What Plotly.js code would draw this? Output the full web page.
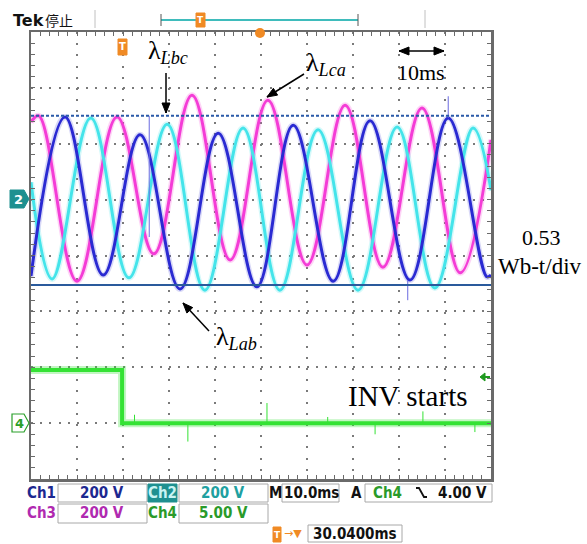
<!DOCTYPE html>
<html><head><meta charset="utf-8">
<script src="https://cdn.plot.ly/plotly-3.0.1.min.js"></script>
<style>html,body{margin:0;padding:0;background:#fff}</style>
</head><body><div id="chart" style="width:587px;height:544px"></div>
<script>
// ---- data (time in ms, flux in divisions) ----
const magT  = [0, 1.7, 10.0, 18.7, 26.7, 35.0, 43.3, 51.5, 60.0, 68.3, 76.5, 85.0, 93.3, 100];
const magV  = [2.39, 2.50, -0.46, 2.48, 0.03, 2.87, -0.08, 2.78, -0.17, 2.69, -0.21, 2.64, -0.31, 2.07];
const blueT = [0, 7.4, 15.7, 23.7, 32.4, 40.7, 49.1, 57.0, 65.7, 73.7, 82.4, 90.7, 99.1, 100];
const blueV = [-0.37, 2.48, -0.35, 2.16, -0.60, 2.19, -0.56, 2.33, -0.46, 2.41, -0.44, 2.46, -0.38, -0.35];
const cyanT = [0, 4.6, 13.0, 21.3, 29.6, 37.8, 46.1, 54.1, 62.4, 71.1, 79.6, 87.8, 96.1, 100];
const cyanV = [1.31, -0.42, 2.46, -0.40, 2.35, -0.62, 2.28, -0.62, 2.25, -0.62, 2.30, -0.58, 2.28, 1.17];
const greenT = [0, 19.8, 19.8, 100];
const greenV = [-2.05, -2.05, -3.0, -3.0];
const greenSpikeT = [22.5, 34.1, 51.3, 64.5, 74.8, 85.2, 96.5];
const greenSpikeV = [-2.85, -3.33, -2.64, -2.89, -3.2, -2.79, -3.16];
const blueSpikeT = [25.7, 81.9, 90.7];
const blueSpikeFrom = [0.33, -0.44, 2.46];
const blueSpikeTo = [2.50, -0.80, 2.85];
const cursorTop = 2.50, cursorBottom = -0.53;
const greenLow = -3.0;

const C_MAG = '#f43cd6', C_BLUE = '#2a2ad2', C_CYAN = '#44e4ea', C_GREEN = '#34e234';

function spikes(ts, from, to){ const x=[],y=[]; ts.forEach((t,i)=>{x.push(t,t,null);y.push(from[i],to[i],null);}); return {x,y}; }
const gs = spikes(greenSpikeT, greenSpikeT.map(()=>greenLow), greenSpikeV);
const bs = spikes(blueSpikeT, blueSpikeFrom, blueSpikeTo);

function wave(x,y,color,w,op){ return {x,y,type:'scatter',mode:'lines',line:{color,width:w,shape:'spline',smoothing:1.1},opacity:op,hoverinfo:'skip'}; }
const traces = [
  wave(magT,magV,C_MAG,6,0.22), wave(cyanT,cyanV,C_CYAN,6,0.22), wave(blueT,blueV,C_BLUE,6,0.18),
  wave(magT,magV,C_MAG,3,1), wave(cyanT,cyanV,C_CYAN,3,1), wave(blueT,blueV,C_BLUE,3,1),
  {x:bs.x,y:bs.y,type:'scatter',mode:'lines',line:{color:'#6a6ae0',width:1},hoverinfo:'skip'},
  {x:greenT,y:greenV,type:'scatter',mode:'lines',line:{color:C_GREEN,width:8},opacity:0.3,hoverinfo:'skip'},
  {x:greenT,y:greenV,type:'scatter',mode:'lines',line:{color:C_GREEN,width:4},hoverinfo:'skip'},
  {x:gs.x,y:gs.y,type:'scatter',mode:'lines',line:{color:C_GREEN,width:1},hoverinfo:'skip'}
];

// ---- layout helpers (pixel -> paper) ----
const L=31,R=491,T=32,B=479;
const px = p => (p-L)/(R-L);
const py = p => (B-p)/(B-T);
const FS = 'Liberation Sans Narrow, DejaVu Sans Condensed, Arial Narrow, DejaVu Sans, sans-serif';
const SERIF = 'Liberation Serif, Times New Roman, DejaVu Serif, serif';
function rect(x0,y0,x1,y1,fill,line,lw){return {type:'rect',xref:'paper',yref:'paper',x0:px(x0),x1:px(x1),y0:py(y1),y1:py(y0),fillcolor:fill,line:{color:line,width:lw},layer:'above'};}
function seg(x0,y0,x1,y1,color,w){return {type:'line',xref:'paper',yref:'paper',x0:px(x0),x1:px(x1),y0:py(y0),y1:py(y1),line:{color:color,width:w},layer:'above'};}
function poly(pts,fill,line,lw,close){ const d=pts.map((p,i)=>(i?'L':'M')+px(p[0]).toFixed(5)+','+py(p[1]).toFixed(5)).join(' ')+(close?' Z':''); return {type:'path',xref:'paper',yref:'paper',path:d,fillcolor:fill,line:{color:line,width:lw},layer:'above'}; }
function txt(x,y,text,size,color,opts){ return Object.assign({xref:'paper',yref:'paper',x:px(x),y:py(y),text:text,showarrow:false,xanchor:'center',yanchor:'middle',font:{size:size,color:color,family:FS}},opts||{}); }
function head(tx,ty,fx,fy){ const dx=tx-fx, dy=ty-fy, l=Math.hypot(dx,dy), ux=dx/l, uy=dy/l, hl=10, hw=4;
  const bx=tx-ux*hl, by=ty-uy*hl; return poly([[tx,ty],[bx-uy*hw,by+ux*hw],[bx+uy*hw,by-ux*hw]],'#000','#000',1,true); }
function arrowShapes(fx,fy,tx,ty,both){ const out=[seg(fx,fy,tx,ty,'#000',1.5), head(tx,ty,fx,fy)]; if(both) out.push(head(fx,fy,tx,ty)); return out; }

const shapes = [
  {type:'line',xref:'paper',yref:'y',x0:0,x1:1,y0:cursorTop,y1:cursorTop,line:{color:'#2a5aa8',width:2,dash:'3px,2px'}},
  {type:'line',xref:'paper',yref:'y',x0:0,x1:1,y0:cursorBottom,y1:cursorBottom,line:{color:'#2a5a9c',width:2}},
  // header
  seg(95,10,95,28,'#c0c0c0',1), seg(425,10,425,28,'#c0c0c0',1),
  seg(161,20,358,20,'#3fbcbc',2), seg(161,14,161,26,'#555',1), seg(358,14,358,26,'#555',1),
  rect(196,13,205,27,'#f08a24','#f08a24',1),
  {type:'circle',xref:'paper',yref:'paper',x0:px(255),x1:px(265),y0:py(38),y1:py(28),fillcolor:'#f08a24',line:{width:0}},
  // trigger marker inside
  rect(118,39,127,55,'#f08a24','#f08a24',1),
  // channel markers
  poly([[10,190],[24,190],[29,199],[24,208],[10,208]],'#1e9090','#1e9090',1,true),
  poly([[12,414],[24,414],[29,423],[24,432],[12,432]],'#ffffff','#2aa02a',1.2,true),
  // trigger level arrow
  poly([[480,377],[485,373],[485,381]],'#1f9a1f','#1f9a1f',1,true),
  seg(485,377,490,377,'#1f9a1f',2),
  // status boxes
  rect(58,484,147,502,'#fff','#a8a8a8',1), rect(179,484,268,502,'#fff','#a8a8a8',1),
  rect(148,484,177,502,'#1e9090','#1e9090',1),
  rect(282,484,339,502,'#fff','#a8a8a8',1), rect(365,484,492,502,'#fff','#a8a8a8',1),
  rect(58,504,147,523,'#fff','#a8a8a8',1), rect(179,504,268,523,'#fff','#a8a8a8',1),
  rect(308,525,402,542,'#fff','#a8a8a8',1),
  rect(273,527,281,542,'#f08a24','#f08a24',1),
  poly([[416,488],[419,488],[424,497],[427,497]],'rgba(0,0,0,0)','#111',1.8,false)
].concat(
  arrowShapes(166,73,166,113),
  arrowShapes(304,74,267,97),
  arrowShapes(209,331,183,303),
  arrowShapes(399,51,444,51,true)
);

const annotations = [
  txt(28,20,'<b>Tek</b>',16,'#111',{font:{size:16,color:'#111',family:'DejaVu Sans, sans-serif'}}),
  txt(59,20,'停止',14,'#111',{font:{size:14,color:'#111',family:'Noto Sans CJK SC, sans-serif'}}),
  txt(200.5,20,'<b>T</b>',9,'#fff',{font:{size:9,color:'#fff',family:'DejaVu Sans'}}),
  txt(122.5,47,'<b>T</b>',10,'#fff',{font:{size:10,color:'#fff',family:'DejaVu Sans'}}),
  txt(18,199,'<b>2</b>',13,'#fff',{font:{size:13,color:'#fff',family:'DejaVu Sans'}}),
  txt(19,423,'<b>4</b>',13,'#2aa02a',{font:{size:13,color:'#2aa02a',family:'DejaVu Sans'}}),
  // inside labels
  {xref:'paper',yref:'paper',x:px(146),y:py(52),xanchor:'left',yanchor:'middle',showarrow:false,text:'λ<sub><i>Lbc</i></sub>',font:{size:26,color:'#000',family:SERIF}},
  {xref:'paper',yref:'paper',x:px(304),y:py(64),xanchor:'left',yanchor:'middle',showarrow:false,text:'λ<sub><i>Lca</i></sub>',font:{size:26,color:'#000',family:SERIF}},
  {xref:'paper',yref:'paper',x:px(214),y:py(338),xanchor:'left',yanchor:'middle',showarrow:false,text:'λ<sub><i>Lab</i></sub>',font:{size:26,color:'#000',family:SERIF}},
  {xref:'paper',yref:'paper',x:px(421),y:py(72),xanchor:'center',yanchor:'middle',showarrow:false,text:'10ms',font:{size:22,color:'#000',family:SERIF}},
  {xref:'paper',yref:'paper',x:px(407),y:py(396),xanchor:'center',yanchor:'middle',showarrow:false,text:'INV starts',font:{size:29,color:'#000',family:SERIF}},
  {xref:'paper',yref:'paper',x:px(541),y:py(237),xanchor:'center',yanchor:'middle',showarrow:false,text:'0.53',font:{size:22,color:'#000',family:SERIF}},
  {xref:'paper',yref:'paper',x:px(540),y:py(266),xanchor:'center',yanchor:'middle',showarrow:false,text:'Wb-t/div',font:{size:23,color:'#000',family:SERIF}},
  // status text
  txt(41,493,'<b>Ch1</b>',15,'#1c2890'), txt(102,493,'<b>200 V</b>',15,'#1c2890'),
  txt(162,493,'<b>Ch2</b>',15,'#c8f4f4'), txt(223,493,'<b>200 V</b>',15,'#20a0a0'),
  txt(275,493,'<b>M</b>',15,'#111'), txt(311,493,'<b>10.0ms</b>',15,'#111'),
  txt(356,493,'<b>A</b>',15,'#111'), txt(387,493,'<b>Ch4</b>',15,'#2a9a2a'),
  txt(489,493,'<b>4.00 V</b>',15,'#111',{xanchor:'right'}),
  txt(41,513,'<b>Ch3</b>',15,'#b02ab0'), txt(102,513,'<b>200 V</b>',15,'#b02ab0'),
  txt(162,513,'<b>Ch4</b>',15,'#2a9a2a'), txt(223,513,'<b>5.00 V</b>',15,'#2a9a2a'),
  txt(277,534.5,'<b>T</b>',9,'#fff',{font:{size:9,color:'#fff',family:'DejaVu Sans'}}),
  txt(293,533,'→▼',11,'#f08a24',{font:{size:11,color:'#f08a24',family:'DejaVu Sans'}}),
  txt(355,534,'<b>30.0400ms</b>',15,'#111')
];

const axBase = {showticklabels:false,zeroline:false,showline:true,linecolor:'#6a6a6a',linewidth:2.5,mirror:'allticks',
  ticks:'inside',ticklen:4,tickcolor:'#6a6a6a',tickwidth:1,showgrid:true,gridcolor:'#7a7a7a',gridwidth:2,fixedrange:true};
const layout = {
  width:587,height:544,margin:{l:31,r:96,t:32,b:65},paper_bgcolor:'#fff',plot_bgcolor:'#fff',showlegend:false,hovermode:false,
  xaxis:Object.assign({},axBase,{range:[0,100],dtick:10,tick0:0,griddash:'2px,9.2px',minor:{dtick:2,ticks:'inside',ticklen:4,tickcolor:'#6a6a6a',showgrid:false}}),
  yaxis:Object.assign({},axBase,{range:[-4,4],dtick:1,tick0:0,griddash:'2px,7.2px',minor:{dtick:0.2,ticks:'inside',ticklen:4,tickcolor:'#6a6a6a',showgrid:false}}),
  shapes:shapes,annotations:annotations
};
Plotly.newPlot('chart',traces,layout,{staticPlot:true,displayModeBar:false});
</script></body></html>
